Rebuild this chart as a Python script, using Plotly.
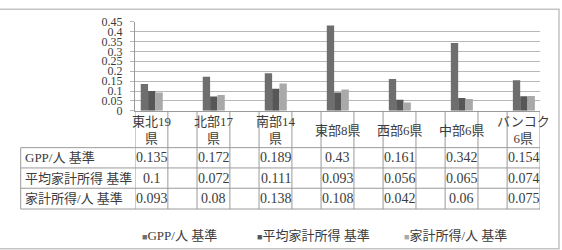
import plotly.graph_objects as go

# ---- data ----
categories = ["東北19<br>県", "北部17<br>県", "南部14<br>県", "東部8県", "西部6県", "中部6県", "バンコク<br>6県"]
series_names = ["GPP/人 基準", "平均家計所得 基準", "家計所得/人 基準"]
gpp_per_person = [0.135, 0.172, 0.189, 0.43, 0.161, 0.342, 0.154]
avg_household_income = [0.1, 0.072, 0.111, 0.093, 0.056, 0.065, 0.074]
household_income_per_person = [0.093, 0.08, 0.138, 0.108, 0.042, 0.06, 0.075]
value_labels = [
    ["0.135", "0.172", "0.189", "0.43", "0.161", "0.342", "0.154"],
    ["0.1", "0.072", "0.111", "0.093", "0.056", "0.065", "0.074"],
    ["0.093", "0.08", "0.138", "0.108", "0.042", "0.06", "0.075"],
]
y_tick_values = [0, 0.05, 0.1, 0.15, 0.2, 0.25, 0.3, 0.35, 0.4, 0.45]
y_tick_labels = ["0", "0.05", "0.1", "0.15", "0.2", "0.25", "0.3", "0.35", "0.4", "0.45"]

series_values = [gpp_per_person, avg_household_income, household_income_per_person]
colors = ["#6e6e6e", "#575757", "#a9a9a9"]

W, H = 562, 250
FONT = "Liberation Serif, 'Noto Sans CJK JP', serif"
TXT = "#3c3c3c"
LINE = "#9a9a9a"

def py(p):  # pixel y -> paper
    return (H - p) / H

def px(p):  # pixel x -> paper
    return p / W

xs = list(range(len(categories)))
x_lo, x_hi = -0.27, 6.26

fig = go.Figure()
for name, vals, col in zip(series_names, series_values, colors):
    fig.add_trace(go.Bar(x=xs, y=vals, name=name, marker=dict(color=col, line=dict(width=0)),
                         showlegend=False))

shapes = []
# table row lines (pixel rows)
row_lines = [149, 170.5, 192, 214]
table_left = 20.7
for r in row_lines:
    shapes.append(dict(type="line", xref="paper", yref="paper", x0=px(table_left), x1=px(540),
                       y0=py(r), y1=py(r), line=dict(color=LINE, width=1)))
shapes.append(dict(type="line", xref="paper", yref="paper", x0=px(table_left), x1=px(table_left),
                   y0=py(149), y1=py(214), line=dict(color=LINE, width=1)))
# table column lines (two interleaved grids as in the reference)
for k in xs:
    for off in (-0.27, 0.26):
        shapes.append(dict(type="line", xref="x", yref="paper", x0=k + off, x1=k + off,
                           y0=py(110), y1=py(214), line=dict(color=LINE, width=1)))
# outer chart border
shapes.append(dict(type="rect", xref="paper", yref="paper", x0=px(-5), x1=px(559),
                   y0=py(256), y1=py(2.5), line=dict(color="#c4c4c4", width=1.5),
                   fillcolor="rgba(0,0,0,0)"))

annotations = []
# header (category) row
for k, c in zip(xs, categories):
    annotations.append(dict(x=k, xref="x", y=py(130.5), yref="paper", text=c, showarrow=False,
                            font=dict(family=FONT, size=13, color=TXT), xanchor="center",
                            yanchor="middle", align="center"))
# rows
row_centers = [159.8, 181.2, 203]
for name, labels, yc in zip(series_names, value_labels, row_centers):
    annotations.append(dict(x=px(23), xref="paper", y=py(yc), yref="paper", text=name,
                            showarrow=False, xanchor="left", yanchor="middle",
                            font=dict(family=FONT, size=13, color=TXT)))
    for k, lab in zip(xs, labels):
        annotations.append(dict(x=k, xref="x", y=py(yc), yref="paper", text=lab, showarrow=False,
                                xanchor="center", yanchor="middle",
                                font=dict(family=FONT, size=14, color=TXT)))
# legend
legend_x = [140, 255, 402]
for name, col, lx in zip(series_names, colors, legend_x):
    annotations.append(dict(x=px(lx), xref="paper", y=py(242), yref="paper",
                            text=f"<span style='color:{col};font-size:9px'>■</span>{name}",
                            showarrow=False, xanchor="left", yanchor="middle",
                            font=dict(family=FONT, size=13, color=TXT)))

fig.update_layout(
    width=W, height=H, margin=dict(l=0, r=0, t=0, b=0),
    paper_bgcolor="white", plot_bgcolor="white",
    barmode="group", bargap=0.645, bargroupgap=0,
    shapes=shapes, annotations=annotations,
    xaxis=dict(domain=[px(135), px(540)], range=[x_lo, x_hi], showticklabels=False,
               showgrid=False, zeroline=False, showline=True, linecolor=LINE, linewidth=1,
               ticks=""),
    yaxis=dict(domain=[py(110), py(15.5)], range=[0, 0.45], tickvals=y_tick_values,
               ticktext=y_tick_labels, showgrid=True, gridcolor="#b8b8b8", gridwidth=1.3,
               zeroline=False, showline=True, linecolor=LINE, linewidth=1,
               ticks="outside", ticklen=4, tickcolor="#b8b8b8", ticklabelstandoff=5,
               tickfont=dict(family=FONT, size=12, color=TXT)),
)

fig.write_html("out.html")
